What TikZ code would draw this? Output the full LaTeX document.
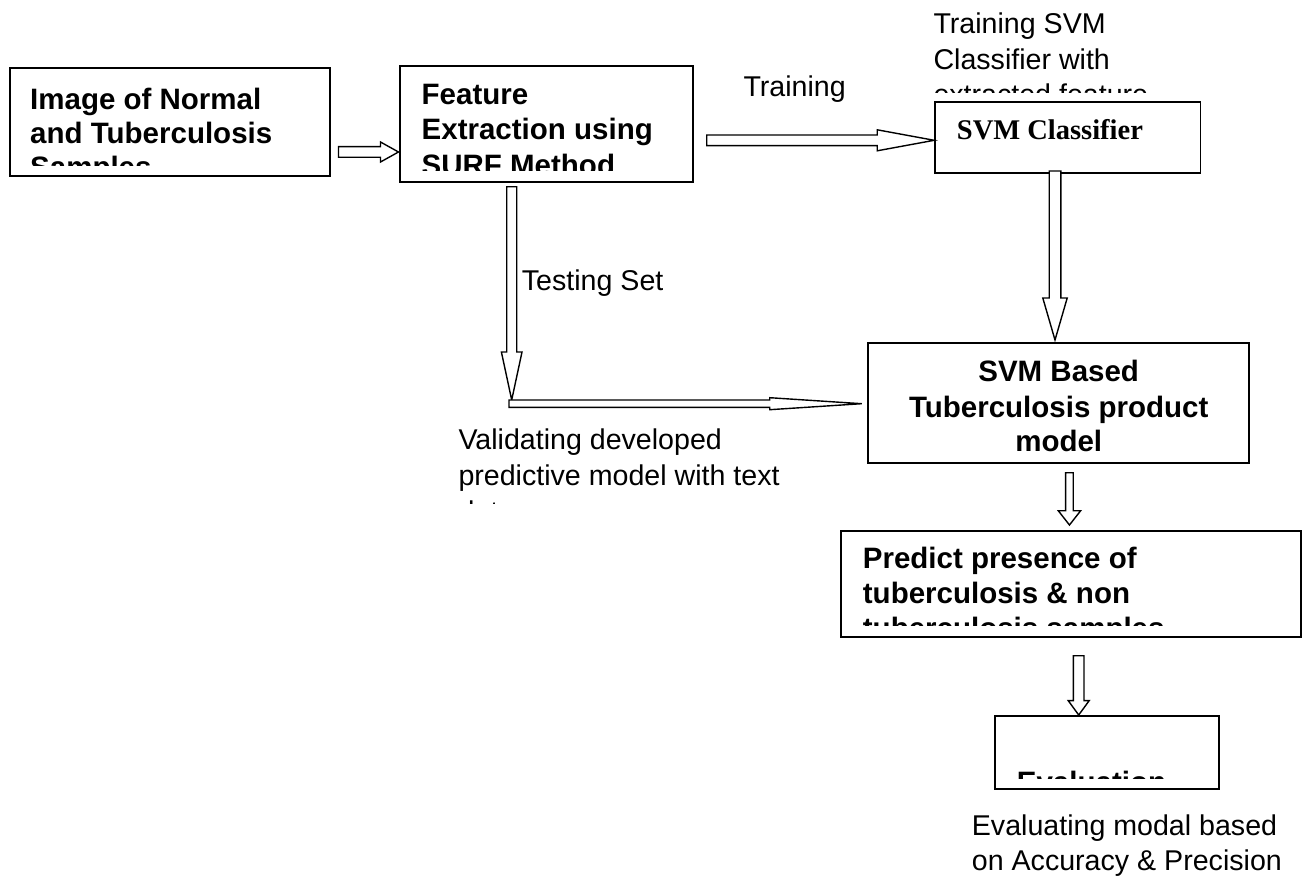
\documentclass[tikz,border=0pt]{standalone}
\usepackage{fontspec}
\setmainfont{Liberation Sans}
\newfontfamily\tmsfont{Liberation Serif}
\usetikzlibrary{calc}
\newcommand\rblock[5]{\draw[blk] ($(#1)+(0,-#3)$) -- ($(#2)+(-#5,-#3)$) -- ($(#2)+(-#5,-#4)$) -- (#2) -- ($(#2)+(-#5,#4)$) -- ($(#2)+(-#5,#3)$) -- ($(#1)+(0,#3)$) -- cycle;}
\newcommand\dblock[5]{\draw[blk] ($(#1)+(-#3,0)$) -- ($(#2)+(-#3,-#5)$) -- ($(#2)+(-#4,-#5)$) -- (#2) -- ($(#2)+(#4,-#5)$) -- ($(#2)+(#3,-#5)$) -- ($(#1)+(#3,0)$) -- cycle;}
\tikzset{
  box/.style={draw=black, line width=2pt, inner sep=0pt, fill=none},
  blk/.style={draw=black, line width=1.4pt, fill=white, line join=miter},
  bt/.style={anchor=base west, inner sep=0pt, font=\fontsize{29.5}{35}\selectfont\bfseries},
  btc/.style={anchor=base, inner sep=0pt, font=\fontsize{29.5}{35}\selectfont\bfseries},
  rt/.style={anchor=base west, inner sep=0pt, font=\fontsize{28.6}{35}\selectfont},
  tt/.style={anchor=base west, inner sep=0pt, font=\fontsize{28.5}{33}\selectfont\tmsfont\bfseries}
}
\begin{document}
\begin{tikzpicture}[x=1pt,y=-1pt]
\useasboundingbox (0,0) rectangle (1304,880);
\fill[white] (0,0) rectangle (1304,880);

% boxes
\node[box, minimum width=320pt, minimum height=107.4pt] (b1) at (170,122) {};
\node[box, minimum width=293pt, minimum height=116pt] (b2) at (546,123.7) {};
\node[box, line width=1.6pt, minimum width=265.5pt, minimum height=71pt] (b3) at (1067.75,137.8) {};
\node[box, minimum width=380.7pt, minimum height=120.6pt] (b4) at (1058.65,403) {};
\node[box, minimum width=460pt, minimum height=105.7pt] (b5) at (1071,583.85) {};
\node[box, minimum width=224.3pt, minimum height=73.3pt] (b6) at (1107.15,752.65) {};

% box texts
\node[bt] (t1a) at (30,109.3) {Image of Normal};
\node[bt] (t1b) at (30,143.3) {and Tuberculosis};
\begin{scope}
  \clip (12,150) rectangle (328,166);
  \node[bt] (t1c) at (30,177.3) {Samples};
\end{scope}

\node[bt] (t2a) at (421.5,104.3) {Feature};
\node[bt] (t2b) at (421.5,140) {Extraction using};
\begin{scope}
  \clip (402,150) rectangle (690,171);
  \node[bt] (t2c) at (421.5,175.7) {SURF Method};
\end{scope}

\node[tt] (t3) at (956.7,140) {SVM Classifier};

\node[btc] (t4a) at (1058.7,381.7) {SVM Based};
\node[btc] (t4b) at (1058.7,417.3) {Tuberculosis product};
\node[btc] (t4c) at (1058.7,451.7) {model};

\node[bt] (t5a) at (862.7,568.3) {Predict presence of};
\node[bt] (t5b) at (862.7,603.3) {tuberculosis \& non};
\begin{scope}
  \clip (845,610) rectangle (1298,625);
  \node[bt] (t5c) at (862.7,638.3) {tuberculosis samples};
\end{scope}

\begin{scope}
  \clip (998,760) rectangle (1216,778.3);
  \node[bt] (t6a) at (1016.7,792.5) {Evaluation};
\end{scope}

% free labels
\node[rt] (l1) at (743.3,96.7) {Training};
\node[rt] (l2a) at (933.3,33.3) {Training SVM};
\node[rt] (l2b) at (933.3,69.3) {Classifier with};
\begin{scope}
  \clip (930,75) rectangle (1200,93);
  \node[rt] (l2c) at (933.3,105) {extracted feature};
\end{scope}
\node[rt] (l3) at (521.7,290) {Testing Set};
\node[rt] (l4a) at (458.3,449.3) {Validating developed};
\node[rt] (l4b) at (458.3,485) {predictive model with text};
\begin{scope}
  \clip (450,495) rectangle (700,503);
  \node[rt] (l4c) at (458.3,521) {data};
\end{scope}
\node[rt] (l5a) at (971.7,835) {Evaluating modal based};
\node[rt] (l5b) at (971.7,870) {on Accuracy \& Precision};

% connector coordinates
\coordinate (a1s) at ($(b1.east)+(7.5,30)$);
\coordinate (a1e) at (b2.west |- a1s);
\coordinate (a2s) at (706.7,140.3);
\coordinate (a2e) at (b3.west |- a2s);
\coordinate (a3s) at ($(b2.south)+(-34.3,4)$);
\coordinate (jn) at (511.7,400);
\coordinate (a4s) at (509,403.7);
\coordinate (a4e) at ($(b4.west |- a4s)+(-5.6,0)$);
\coordinate (a5s) at (1055,171);
\coordinate (a5e) at (1055,340);
\coordinate (a6s) at ($(b4.south)+(10.8,8.4)$);
\coordinate (a6e) at ($(b5.north -| a6s)+(0,-5)$);
\coordinate (a7s) at (1078.7,655.7);
\coordinate (a7e) at (b6.north -| a7s);

% block arrows
\rblock{a1s}{a1e}{5.3}{10}{18}
\rblock{a2s}{a2e}{5.3}{10.5}{57}
\dblock{a3s}{jn}{5}{10.3}{48}
\rblock{a4s}{a4e}{3.7}{6}{92}
\dblock{a5s}{a5e}{5.8}{12.2}{42}
\dblock{a6s}{a6e}{3.8}{11.2}{14.3}
\dblock{a7s}{a7e}{5.3}{10.5}{14.4}
\end{tikzpicture}
\end{document}
